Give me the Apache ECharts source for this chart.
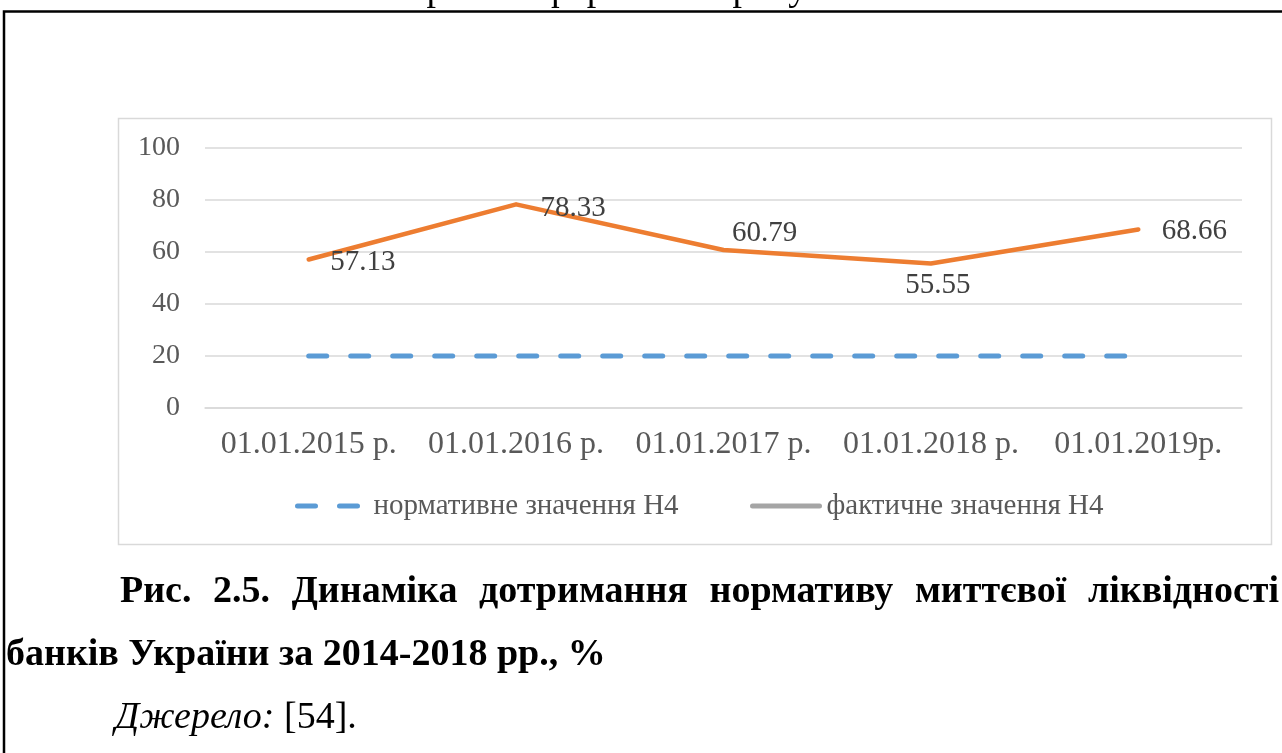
<!DOCTYPE html>
<html>
<head>
<meta charset="utf-8">
<script src="https://cdn.jsdelivr.net/npm/echarts/dist/echarts.min.js"></script>
<style>
html,body{margin:0;padding:0;background:#fff;overflow:hidden}
#c{width:1282px;height:753px}
</style>
</head>
<body>
<div id="c"></div>
<script>
// ---- data ----
const categories = ['01.01.2015 р.', '01.01.2016 р.', '01.01.2017 р.', '01.01.2018 р.', '01.01.2019р.'];
const normValues = [20, 20, 20, 20, 20];
const actualValues = [57.13, 78.33, 60.79, 55.55, 68.66];
const seriesNames = ['нормативне значення Н4', 'фактичне значення Н4'];
const yTicks = [0, 20, 40, 60, 80, 100];
const headerText = 'Зразок оформлення рисунків';
const captionLine1 = 'Рис. 2.5. Динаміка дотримання нормативу миттєвої ліквідності';
const captionLine2 = 'банків України за 2014-2018 рр., %';
const sourceLabel = 'Джерело:';
const sourceRef = ' [54].';

// ---- layout / style ----
const FONT = '"Liberation Serif", "Times New Roman", serif';
const labelPlacement = [
  {position: 'right', distance: 21, offset: [0, 3]},
  {position: 'right', distance: 24, offset: [0, 4]},
  {position: 'top', distance: 2, offset: [41, 0]},
  {position: 'bottom', distance: 7, offset: [7, 0]},
  {position: 'right', distance: 23, offset: [0, 2]}
];

// justified first caption line
function justifiedWords(text, font, x0, x1) {
  const ctx = document.createElement('canvas').getContext('2d');
  ctx.font = font;
  const words = text.split(' ');
  const widths = words.map(w => ctx.measureText(w).width);
  const total = widths.reduce((a, b) => a + b, 0);
  const gap = (x1 - x0 - total) / (words.length - 1);
  let x = x0;
  return words.map((w, i) => { const o = {w, x}; x += widths[i] + gap; return o; });
}
const capFont = 'bold 38px ' + FONT;
const line1Words = justifiedWords(captionLine1, capFont, 120, 1279);

const graphics = [
  {type: 'polyline', silent: true, shape: {points: [[4, 800], [4, 11.5], [1300, 11.5]]},
   style: {stroke: '#000', lineWidth: 2.5, fill: null}},
  {type: 'rect', silent: true, shape: {x: 118.5, y: 118.5, width: 1153, height: 426},
   style: {stroke: '#D9D9D9', lineWidth: 1.5, fill: null}},
  {type: 'text', silent: true, x: 641, y: -10,
   style: {text: headerText, fill: '#000', font: '38px ' + FONT, align: 'center', verticalAlign: 'middle'}}
];
line1Words.forEach(o => graphics.push({type: 'text', silent: true, x: o.x, y: 592,
  style: {text: o.w, fill: '#000', font: capFont, align: 'left', verticalAlign: 'middle'}}));
graphics.push({type: 'text', silent: true, x: 6, y: 655,
  style: {text: captionLine2, fill: '#000', font: capFont, align: 'left', verticalAlign: 'middle'}});
graphics.push({type: 'text', silent: true, x: 115, y: 718,
  style: {text: '{i|' + sourceLabel + '}' + sourceRef, fill: '#000', font: '38px ' + FONT,
    align: 'left', verticalAlign: 'middle',
    rich: {i: {fontStyle: 'italic', fontFamily: FONT, fontSize: 38, fill: '#000'}}}});

const chart = echarts.init(document.getElementById('c'), null, {renderer: 'canvas'});
const legendText = {fontFamily: FONT, fontSize: 29, color: '#595959', lineHeight: 30};
const hiddenSymbol = {color: 'rgba(0,0,0,0)', opacity: 0, borderWidth: 0};
chart.setOption({
  animation: false,
  backgroundColor: '#fff',
  textStyle: {fontFamily: FONT},
  grid: {left: 205, right: 40, top: 148, bottom: 345, containLabel: false, outerBoundsMode: 'none'},
  xAxis: {
    type: 'category', data: categories, boundaryGap: true,
    axisLine: {show: true, lineStyle: {color: '#D9D9D9', width: 1.5}},
    axisTick: {show: false},
    splitLine: {show: false},
    axisLabel: {interval: 0, margin: 21, fontFamily: FONT, fontSize: 32, color: '#595959', hideOverlap: false}
  },
  yAxis: {
    type: 'value', min: yTicks[0], max: yTicks[yTicks.length - 1], interval: yTicks[1] - yTicks[0],
    axisLine: {show: false}, axisTick: {show: false},
    splitLine: {show: true, lineStyle: {color: '#D9D9D9', width: 1.5}},
    axisLabel: {margin: 25, fontFamily: FONT, fontSize: 28, color: '#595959'}
  },
  legend: [
    {data: [{name: seriesNames[0], itemStyle: hiddenSymbol,
             lineStyle: {color: '#5B9BD5', width: 5, type: [18, 24], cap: 'round'}}],
     left: 295, top: 491, padding: 0, itemWidth: 65, itemHeight: 30,
     selectedMode: false, textStyle: Object.assign({padding: [0, 0, 0, 6]}, legendText)},
    {data: [{name: seriesNames[1], itemStyle: hiddenSymbol,
             lineStyle: {color: '#A5A5A5', width: 5, type: 'solid', cap: 'round'}}],
     left: 750, top: 491, padding: 0, itemWidth: 67, itemHeight: 30,
     selectedMode: false, textStyle: Object.assign({padding: [0, 0, 0, 2]}, legendText)}
  ],
  graphic: graphics,
  series: [
    {
      name: seriesNames[0], type: 'line', data: normValues, symbol: 'none', silent: true, z: 2,
      lineStyle: {color: '#5B9BD5', width: 5, type: [18, 24], cap: 'round'},
      itemStyle: {color: '#5B9BD5'}
    },
    {
      name: seriesNames[1], type: 'line', silent: true, z: 3,
      data: actualValues.map((v, i) => ({value: v, label: labelPlacement[i]})),
      symbol: 'circle', symbolSize: 1, showSymbol: true,
      itemStyle: {color: 'rgba(0,0,0,0)', borderWidth: 0},
      lineStyle: {color: '#ED7D31', width: 4.5, cap: 'round', join: 'round'},
      label: {show: true, fontFamily: FONT, fontSize: 29, color: '#404040'}
    }
  ]
});
</script>
</body>
</html>
